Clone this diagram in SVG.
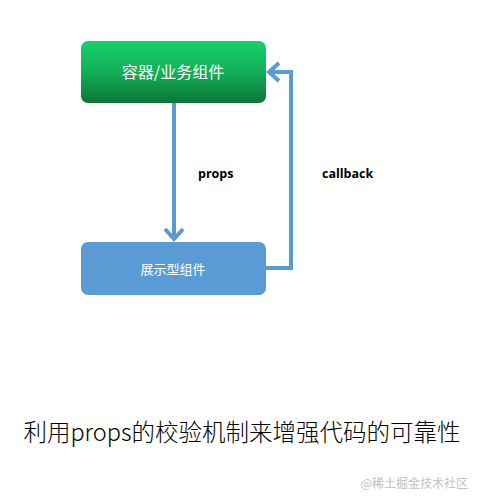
<svg xmlns="http://www.w3.org/2000/svg" width="482" height="502" viewBox="0 0 482 502">
<defs>
<linearGradient id="g" x1="0" y1="0" x2="0" y2="1">
<stop offset="0" stop-color="#19d06c"/>
<stop offset="0.5" stop-color="#12b058"/>
<stop offset="1" stop-color="#0c7438"/>
</linearGradient>
<style>
.cjk{font-family:"Noto Sans CJK SC","Noto Sans",sans-serif;}
.lbl{font-family:"Open Sans","Noto Sans",sans-serif;font-weight:bold;font-size:12.5px;fill:#000;}
.conn{fill:none;stroke:#5b9bd5;stroke-width:4;}
</style>
</defs>
<rect width="482" height="502" fill="#fff"/>
<g id="container">
<rect x="81" y="41" width="185" height="62" rx="7" fill="url(#g)"/>
<text x="173" y="78" class="cjk" font-size="16" fill="#fff" text-anchor="middle">容器/业务组件</text>
</g>
<g id="display">
<rect x="81" y="242" width="185" height="53" rx="7" fill="#5b9bd5"/>
<text x="173" y="274" class="cjk" font-size="13" fill="#fff" text-anchor="middle">展示型组件</text>
</g>
<g id="connectors">
<path class="conn" d="M174 103 V238"/>
<path class="conn" d="M165 229 L174 239 L183 229"/>
<path class="conn" d="M266 268 H291 V72 H270"/>
<path class="conn" d="M279 63 L269 72 L279 81"/>
<text x="198" y="178" class="lbl">props</text>
<text x="322" y="178" class="lbl">callback</text>
</g>
<text x="242" y="441" class="cjk" font-size="23.5" font-weight="300" fill="#000" text-anchor="middle">利用props的校验机制来增强代码的可靠性</text>
<text x="468" y="488" class="cjk" font-size="12" fill="#c0c0c0" text-anchor="end">@稀土掘金技术社区</text>
</svg>
